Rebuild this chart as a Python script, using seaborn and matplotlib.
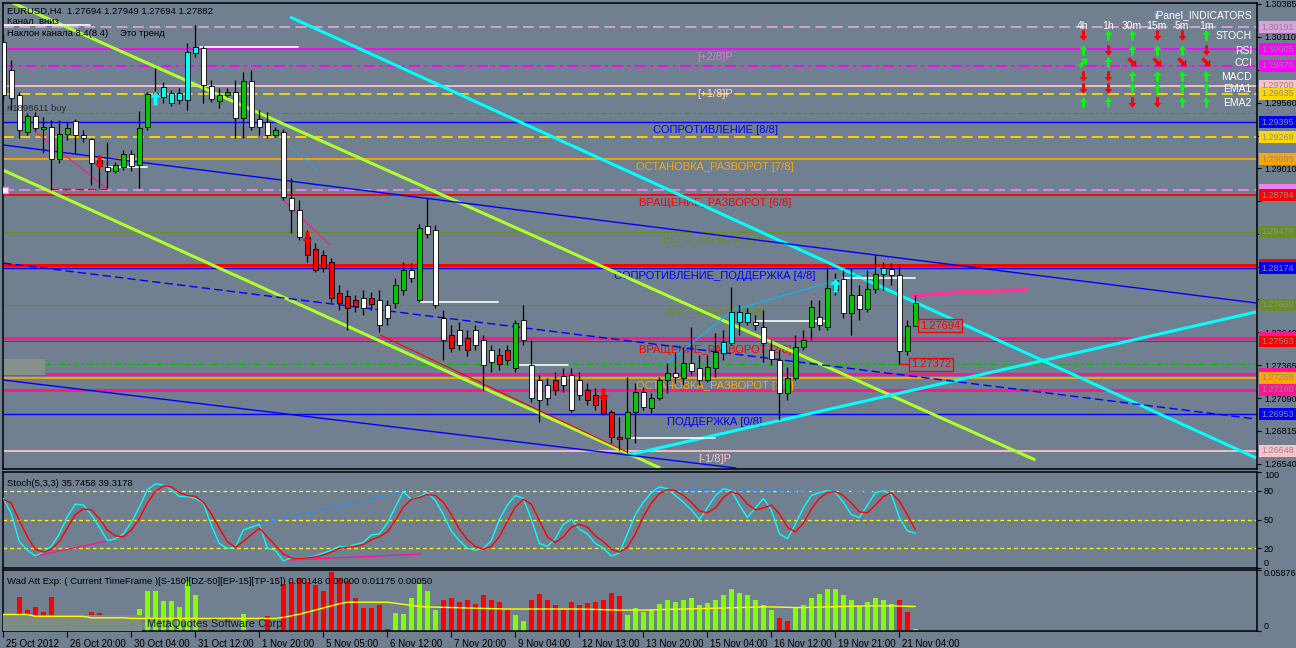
import matplotlib
matplotlib.use("Agg")
import matplotlib.pyplot as plt
import matplotlib.transforms as mtransforms
from matplotlib.patches import Rectangle
from matplotlib.path import Path
import seaborn as sns
import numpy as np

# ---------------- data (EURUSD H4) ----------------
opens = [1.30067, 1.29833, 1.29624, 1.29315, 1.29448, 1.29340, 1.29356, 1.29089, 1.29298, 1.29406,
         1.29289, 1.29256, 1.29080, 1.29022, 1.28988, 1.29022, 1.29131, 1.29039, 1.29356, 1.29607,
         1.29607, 1.29557, 1.29582, 1.29582, 1.29975, 1.30017, 1.29699, 1.29574, 1.29624, 1.29649,
         1.29432, 1.29741, 1.29423, 1.29398, 1.29289, 1.29315, 1.28763, 1.28662, 1.28437, 1.28336,
         1.28286, 1.28228, 1.27968, 1.27943, 1.27910, 1.27927, 1.27927, 1.27910, 1.27868, 1.27885,
         1.27994, 1.28161, 1.27910, 1.28529, 1.28495, 1.27760, 1.27617, 1.27659, 1.27592, 1.27659,
         1.27576, 1.27492, 1.27450, 1.27492, 1.27342, 1.27743, 1.27367, 1.27241, 1.27199, 1.27241,
         1.27275, 1.27283, 1.27241, 1.27158, 1.27116, 1.27116, 1.26974, 1.26765, 1.26756, 1.26974,
         1.27141, 1.27007, 1.27091, 1.27241, 1.27300, 1.27258, 1.27383, 1.27342, 1.27241, 1.27342,
         1.27467, 1.27551, 1.27726, 1.27726, 1.27726, 1.27684, 1.27492, 1.27408, 1.27133, 1.27258,
         1.27517, 1.27684, 1.27768, 1.27684, 1.27994, 1.28086, 1.27801, 1.27952, 1.27835, 1.28002,
         1.28127, 1.28170, 1.28119, 1.27484, 1.27694]
highs = [1.30125, 1.29916, 1.29649, 1.29473, 1.29482, 1.29440, 1.29415, 1.29415, 1.29398, 1.29423,
         1.29331, 1.29264, 1.29122, 1.29231, 1.29064, 1.29164, 1.29164, 1.29490, 1.29649, 1.29850,
         1.29732, 1.29666, 1.29682, 1.30058, 1.30209, 1.30033, 1.29749, 1.29682, 1.29682, 1.29749,
         1.29816, 1.29833, 1.29498, 1.29482, 1.29356, 1.29340, 1.28930, 1.28746, 1.28495, 1.28387,
         1.28328, 1.28261, 1.28035, 1.27994, 1.27952, 1.27994, 1.27977, 1.27994, 1.27910, 1.28094,
         1.28228, 1.28219, 1.28545, 1.28763, 1.28537, 1.27826, 1.27701, 1.27726, 1.27659, 1.27701,
         1.27617, 1.27534, 1.27509, 1.27534, 1.27743, 1.27868, 1.27576, 1.27283, 1.27258, 1.27308,
         1.27342, 1.27342, 1.27308, 1.27216, 1.27174, 1.27158, 1.26990, 1.26932, 1.27266, 1.27216,
         1.27183, 1.27133, 1.27266, 1.27383, 1.27467, 1.27517, 1.27684, 1.27450, 1.27450, 1.27634,
         1.27659, 1.28019, 1.27868, 1.27843, 1.27785, 1.27826, 1.27576, 1.27492, 1.27350, 1.27617,
         1.27659, 1.27910, 1.27910, 1.28186, 1.28136, 1.28161, 1.28178, 1.28035, 1.28161, 1.28286,
         1.28228, 1.28219, 1.28211, 1.27743, 1.27949]
lows = [1.29582, 1.29498, 1.29264, 1.29289, 1.29323, 1.29139, 1.28830, 1.29055, 1.29248, 1.29139,
        1.29231, 1.28871, 1.28846, 1.28846, 1.28972, 1.28997, 1.28988, 1.28846, 1.29331, 1.29582,
        1.29557, 1.29532, 1.29549, 1.29498, 1.29941, 1.29557, 1.29565, 1.29515, 1.29607, 1.29264,
        1.29264, 1.29331, 1.29289, 1.29264, 1.29273, 1.28746, 1.28470, 1.28412, 1.28228, 1.28144,
        1.28144, 1.27893, 1.27826, 1.27659, 1.27810, 1.27785, 1.27826, 1.27643, 1.27701, 1.27843,
        1.27952, 1.28060, 1.27893, 1.28428, 1.27843, 1.27408, 1.27475, 1.27492, 1.27442, 1.27492,
        1.27158, 1.27308, 1.27325, 1.27367, 1.27308, 1.27534, 1.27057, 1.26890, 1.27032, 1.27116,
        1.27141, 1.26974, 1.27074, 1.27032, 1.26990, 1.26949, 1.26715, 1.26656, 1.26631, 1.26715,
        1.26990, 1.26965, 1.27074, 1.27133, 1.27216, 1.27199, 1.27283, 1.27199, 1.27224, 1.27266,
        1.27408, 1.27534, 1.27617, 1.27701, 1.27659, 1.27392, 1.27367, 1.26907, 1.27074, 1.27240,
        1.27492, 1.27576, 1.27659, 1.27659, 1.27952, 1.27760, 1.27617, 1.27743, 1.27810, 1.27968,
        1.27994, 1.28035, 1.27372, 1.27450, 1.27694]
closes = [1.29624, 1.29599, 1.29331, 1.29448, 1.29348, 1.29356, 1.29089, 1.29298, 1.29348, 1.29289,
          1.29264, 1.29055, 1.29030, 1.28988, 1.29039, 1.29131, 1.29030, 1.29348, 1.29632, 1.29641,
          1.29691, 1.29641, 1.29641, 1.29983, 1.30025, 1.29707, 1.29590, 1.29624, 1.29649, 1.29432,
          1.29741, 1.29356, 1.29356, 1.29289, 1.29331, 1.28771, 1.28662, 1.28437, 1.28286, 1.28161,
          1.28178, 1.27927, 1.27885, 1.27843, 1.27860, 1.27843, 1.27877, 1.27701, 1.27760, 1.28035,
          1.28161, 1.28094, 1.28512, 1.28462, 1.27868, 1.27576, 1.27509, 1.27534, 1.27492, 1.27534,
          1.27367, 1.27392, 1.27375, 1.27408, 1.27718, 1.27576, 1.27091, 1.27074, 1.27091, 1.27158,
          1.27199, 1.26990, 1.27116, 1.27074, 1.27032, 1.26965, 1.26765, 1.26748, 1.26974, 1.27141,
          1.27016, 1.27091, 1.27241, 1.27300, 1.27266, 1.27383, 1.27316, 1.27241, 1.27350, 1.27475,
          1.27559, 1.27810, 1.27810, 1.27801, 1.27701, 1.27551, 1.27417, 1.27133, 1.27258, 1.27517,
          1.27576, 1.27852, 1.27701, 1.28010, 1.28077, 1.27801, 1.27952, 1.27835, 1.28002, 1.28127,
          1.28178, 1.28119, 1.27484, 1.27694, 1.27882]
# body colour class per bar: w white, g green, r red, c cyan
candle_kind = ("wwwgwgwggw" "wwrwggwggc" "cccccwwggw" "gwwwgwwwrr" "rrrrrwrwwg"
               "gwgwwwrwrw" "wwrrgwwwwr" "wwwrrrrrgg" "wgggwgwwgg" "ccccwwwwgg"
               "ggwgcwgwgg" "cwwgg")

stoch_main = [72, 56, 27, 18, 12, 16, 22, 35, 53, 66, 65, 55, 42, 28, 30, 35, 47, 63, 81, 87,
              86, 81, 74, 74, 72, 67, 44, 25, 20, 21, 39, 42, 45, 20, 18, 7, 10, 9, 10, 12,
              15, 18, 22, 21, 24, 26, 34, 35, 46, 63, 79, 71, 74, 78, 70, 55, 38, 28, 20, 18,
              20, 28, 50, 65, 75, 72, 50, 25, 22, 30, 45, 50, 40, 35, 25, 20, 12, 15, 35, 55,
              68, 78, 84, 82, 75, 68, 60, 50, 62, 75, 82, 80, 65, 52, 62, 72, 60, 35, 30, 45,
              62, 75, 78, 80, 78, 68, 55, 52, 65, 78, 80, 76, 52, 38, 35.7458]
stoch_signal = [71, 67, 49, 32, 19, 16, 19, 27, 41, 55, 61, 60, 51, 39, 33, 32, 39, 51, 67, 79,
                85, 84, 78, 75, 74, 68, 56, 41, 27, 21, 27, 34, 41, 32, 23, 14, 10, 9, 10, 11,
                13, 16, 20, 21, 22, 24, 29, 32, 37, 49, 63, 71, 73, 76, 75, 68, 55, 40, 29, 22,
                19, 22, 32, 48, 63, 71, 66, 49, 32, 26, 32, 42, 45, 42, 33, 27, 19, 16, 21, 35,
                53, 67, 77, 81, 80, 75, 68, 59, 57, 62, 73, 79, 76, 66, 60, 62, 65, 56, 42, 37,
                46, 61, 72, 78, 79, 75, 67, 58, 57, 65, 74, 78, 69, 55, 39.3178]

wad_vals = [0.0010, 0.0152, 0.0322, 0.0199, 0.0228, 0.0180, 0.0322, 0.0010, 0.0010, 0.0010,
            0.0010, 0.0180, 0.0171, 0.0152, 0.0010, 0.0010, 0.0020, 0.0209, 0.0379, 0.0379,
            0.0284, 0.0284, 0.0228, 0.0465, 0.0341, 0.0010, 0.0010, 0.0010, 0.0010, 0.0010,
            0.0161, 0.0010, 0.0010, 0.0142, 0.0010, 0.0446, 0.0465, 0.0502, 0.0465, 0.0436,
            0.0379, 0.0559, 0.0502, 0.0474, 0.0313, 0.0218, 0.0218, 0.0246, 0.0020, 0.0171,
            0.0161, 0.0313, 0.0450, 0.0380, 0.0200, 0.0300, 0.0320, 0.0280, 0.0300, 0.0260,
            0.0340, 0.0300, 0.0280, 0.0200, 0.0150, 0.0100, 0.0300, 0.0350, 0.0300, 0.0250,
            0.0200, 0.0280, 0.0250, 0.0270, 0.0280, 0.0300, 0.0360, 0.0330, 0.0150, 0.0220,
            0.0180, 0.0200, 0.0260, 0.0300, 0.0280, 0.0300, 0.0320, 0.0250, 0.0270, 0.0300,
            0.0340, 0.0400, 0.0360, 0.0340, 0.0300, 0.0250, 0.0200, 0.0120, 0.0100, 0.0220,
            0.0250, 0.0320, 0.0350, 0.0400, 0.0400, 0.0340, 0.0300, 0.0240, 0.0280, 0.0320,
            0.0300, 0.0260, 0.0300, 0.0180, 0.0020]
wad_dir = ("rrrrrrrrrr" "rrrrrggggg" "gggggrrggr" "grrrrrrrrr" "rrrrrrrrrg"
           "gggggrrrrr" "rrrrggrrrr" "rrrrrrrrgg" "gggggggggg" "gggggggrrg"
           "gggggggggg" "ggrrg")
wad_signal = [0.0158, 0.0158, 0.0158, 0.0158, 0.0140, 0.0140, 0.0140, 0.0140, 0.0140, 0.0140,
              0.0140, 0.0126, 0.0126, 0.0126, 0.0126, 0.0126, 0.0120, 0.0120, 0.0120, 0.0120,
              0.0120, 0.0120, 0.0120, 0.0120, 0.0120, 0.0120, 0.0120, 0.0120, 0.0120, 0.0120,
              0.0120, 0.0120, 0.0120, 0.0120, 0.0120, 0.0130, 0.0145, 0.0160, 0.0180, 0.0200,
              0.0220, 0.0240, 0.0260, 0.0275, 0.0275, 0.0275, 0.0275, 0.0275, 0.0275, 0.0265,
              0.0255, 0.0245, 0.0235, 0.0230, 0.0228, 0.0226, 0.0224, 0.0222, 0.0220, 0.0218,
              0.0216, 0.0214, 0.0212, 0.0210, 0.0210, 0.0210, 0.0210, 0.0210, 0.0210, 0.0210,
              0.0210, 0.0210, 0.0210, 0.0208, 0.0206, 0.0204, 0.0202, 0.0200, 0.0200, 0.0200,
              0.0200, 0.0202, 0.0204, 0.0206, 0.0208, 0.0210, 0.0212, 0.0214, 0.0216, 0.0218,
              0.0220, 0.0222, 0.0224, 0.0226, 0.0228, 0.0230, 0.0230, 0.0228, 0.0226, 0.0224,
              0.0224, 0.0226, 0.0228, 0.0230, 0.0232, 0.0234, 0.0236, 0.0238, 0.0240, 0.0240,
              0.0240, 0.0240, 0.0238, 0.0236, 0.0234]

x_labels = ["25 Oct 2012", "26 Oct 20:00", "30 Oct 04:00", "31 Oct 12:00", "1 Nov 20:00",
            "5 Nov 05:00", "6 Nov 12:00", "7 Nov 20:00", "9 Nov 04:00", "12 Nov 13:00",
            "13 Nov 20:00", "15 Nov 04:00", "16 Nov 12:00", "19 Nov 21:00", "21 Nov 04:00"]
price_ticks = [1.26540, 1.26815, 1.27090, 1.27365, 1.27640, 1.27915, 1.28190, 1.28465,
               1.28735, 1.29010, 1.29285, 1.29560, 1.29835, 1.30110, 1.30385]
# scale labels that sit under a coloured price tag are not visible on the chart
price_tick_text = ['1.26540', '1.26815', '1.27090', '1.27365', '1.27640', '', '', '',
                   '', '1.29010', '', '1.29560', '', '1.30110', '1.30385']

# horizontal levels across the chart
level_prices = [1.30191, 1.30005, 1.29870, 1.29700, 1.29635, 1.29473, 1.29395, 1.29269, 1.29085,
                1.28826, 1.28784, 1.28479, 1.28200, 1.28174, 1.27869, 1.27590, 1.27563, 1.27378,
                1.27290, 1.27258, 1.27160, 1.26953, 1.26648]
level_colors = ['#dda0dd', '#ff00ff', '#ff00ff', '#ffc0cb', '#ffd700', '#00c000', '#0000ff',
                '#ffd700', '#ffa500', '#ee82ee', '#ff0000', '#6b8e23', '#ff0000', '#0000ff',
                '#6b8e23', '#ff1493', '#ff0000', '#00c000', '#ff1493', '#ffa500', '#ff1493',
                '#0000ff', '#ffc0cb']
level_styles = ['dash', 'solid', 'dashdot', 'solid', 'dash', 'dashdot', 'solid', 'dash', 'solid',
                'dash', 'solid', 'solid', 'solid', 'solid', 'solid', 'solid', 'solid', 'dashdot',
                'solid', 'solid', 'solid', 'solid', 'solid']
level_widths = [1.3, 1.3, 1.3, 1.3, 1.3, 0.8, 1.0, 1.3, 1.3, 1.3, 1.3, 0.8, 2.2, 1.0, 0.8,
                2.2, 0.8, 0.8, 2.2, 1.3, 2.2, 1.0, 1.3]

# coloured price tags on the right scale (text hidden where the next tag covers it)
tag_prices = [1.30191, 1.30005, 1.29870, 1.29700, 1.29635, 1.29395, 1.29269, 1.29085, 1.28826,
              1.28784, 1.28479, 1.28200, 1.28174, 1.27869, 1.27590, 1.27563, 1.27290, 1.27258,
              1.27160, 1.26953, 1.26648]
tag_colors = ['#dda0dd', '#ff00ff', '#ff00ff', '#ffc0cb', '#ffd700', '#0000ff', '#ffd700',
              '#ffa500', '#ee82ee', '#ff0000', '#6b8e23', '#ff0000', '#0000ff', '#6b8e23',
              '#ff1493', '#ff0000', '#ff1493', '#ffa500', '#ff1493', '#0000ff', '#ffc0cb']
tag_shown = [True, True, True, True, True, True, True, True, False, True, True, False, True, True,
             False, True, False, True, True, True, True]

murrey_levels = [1.30005, 1.29700, 1.29395, 1.29085, 1.28784, 1.28479, 1.28174, 1.27869,
                 1.27563, 1.27258, 1.26953, 1.26648]
murrey_names = ['[+2/8]P', '[+1/8]P', 'СОПРОТИВЛЕНИЕ [8/8]', 'ОСТАНОВКА_РАЗВОРОТ [7/8]',
                'ВРАЩЕНИЕ_РАЗВОРОТ [6/8]', 'ВЕРХ_КАНАЛА [5/8]', 'СОПРОТИВЛЕНИЕ_ПОДДЕРЖКА [4/8]',
                'ДНО_КАНАЛА [3/8]', 'ВРАЩЕНИЕ_РАЗВОРОТ [2/8]', 'ОСТАНОВКА_РАЗВОРОТ [1/8]',
                'ПОДДЕРЖКА [0/8]', '[-1/8]P']
murrey_colors = ['#dd77dd', '#ffd0d8', '#0000ff', '#ffa500', '#ff0000', '#6b8e23', '#0000ff',
                 '#6b8e23', '#ff0000', '#ffa500', '#0000ff', '#ffc0cb']

# trend lines: (bar index points, price points, colour, width, style)
trend_lines = [
    ([1.2, 129.0], [1.30393, 1.26572], '#adff2f', 2.2, 'solid'),
    ([0.0, 82.1], [1.28995, 1.26505], '#adff2f', 2.2, 'solid'),
    ([35.84, 156.6], [1.30276, 1.26589], '#00ffff', 2.2, 'solid'),
    ([78.09, 156.6], [1.26614, 1.27810], '#00ffff', 2.2, 'solid'),
    ([0.0, 156.6], [1.29206, 1.27885], '#0000ff', 1.0, 'solid'),
    ([0.0, 91.6], [1.27241, 1.26505], '#0000ff', 1.0, 'solid'),
    ([0.0, 156.6], [1.28219, 1.26915], '#0000ff', 1.0, 'dash'),
    ([3.96, 12.92], [1.29318, 1.28844], '#ff1493', 0.8, 'solid'),
    ([5.8, 12.96], [1.28838, 1.28838], '#ff0000', 1.0, 'dash'),
    ([34.96, 40.8], [1.28746, 1.28370], '#ff1493', 0.8, 'solid'),
    ([47.1, 77.97], [1.27617, 1.26639], '#ff0000', 0.8, 'solid'),
    ([34.96, 39.6], [1.29248, 1.28972], '#00bfff', 0.8, 'dot'),
    ([82.96, 91.2, 109.6], [1.27383, 1.27826, 1.28178], '#00bfff', 0.8, 'solid'),
    ([113.5, 119.6, 128.1], [1.27944, 1.27977, 1.27994], '#ff3399', 2.6, 'solid'),
]
# short white order lines: (bar from, bar to, price)
white_lines = [(0.0, 10.8, 1.30209), (24.6, 36.8, 1.30025), (12.96, 17.96, 1.29022),
               (52.1, 61.8, 1.27893), (64.0, 70.6, 1.27367), (78.0, 89.0, 1.26756),
               (94.0, 103.0, 1.27735), (105.0, 114.0, 1.28094)]
# signal arrows: (bar, price, direction)
sig_arrows = [(19, 1.29600, 'up'), (104, 1.28035, 'up'), (12, 1.29064, 'down'),
              (38, 1.28428, 'down'), (75, 1.27116, 'down')]

# stoch divergence lines: (bars, values, colour, style)
stoch_lines = [([3.96, 12.9], [11.8, 27.4], '#ff1493', 'solid'),
               ([35.0, 52.1], [7.6, 13.9], '#ff1493', 'solid'),
               ([31.7, 50.0], [45.2, 79.0], '#1e90ff', 'dash'),
               ([81.0, 110.0], [80.5, 79.0], '#1e90ff', 'dash')]

panel_cols = ['4h', '1h', '30m', '15m', '5m', '1m']
panel_rows = ['STOCH', 'RSI', 'CCI', 'MACD', 'EMA1', 'EMA2']
panel_dirs = [['d', 'u', 'u', 'd', 'd', 'u'],
              ['u', 'd', 'u', 'u', 'u', 'd'],
              ['ur', 'u', 'dr', 'dr', 'dr', 'dr'],
              ['d', 'd', 'u', 'u', 'u', 'u'],
              ['d', 'd', 'u', 'u', 'u', 'u'],
              ['u', 'u', 'd', 'd', 'u', 'u']]

# ---------------- drawing ----------------
sns.set_style("ticks")
plt.rcParams['font.family'] = ['Liberation Sans', 'DejaVu Sans']

BG = '#708090'
W, H = 1296.0, 648.0
DASH = {'solid': '-', 'dash': (0, (6, 3)), 'dashdot': (0, (6, 2.5, 1.5, 2.5)), 'dot': (0, (1.5, 2))}
BODY = {'w': '#ffffff', 'g': '#00c800', 'r': '#ff0000', 'c': '#00ffff'}
ANGLE = {'u': 0, 'd': 180, 'ur': -45, 'dr': -135, 'up': 0, 'down': 180}

# thick arrow outline (points up), rotated to build the markers
ARROW_PTS = np.array([(0, 1), (-0.75, 0.1), (-0.28, 0.1), (-0.28, -1), (0.28, -1),
                      (0.28, 0.1), (0.75, 0.1), (0, 1)])


def arrow_marker(angle):
    a = np.deg2rad(angle)
    rot = np.array([[np.cos(a), -np.sin(a)], [np.sin(a), np.cos(a)]])
    return Path(ARROW_PTS @ rot.T, closed=True)


def px_box(x0, y0, x1, y1):
    return [x0 / W, 1 - y1 / H, (x1 - x0) / W, (y1 - y0) / H]


fig = plt.figure(figsize=(12.96, 6.48), dpi=100, facecolor=BG)
ax = fig.add_axes(px_box(3, 3, 1257, 469))
ax_st = fig.add_axes(px_box(3, 471.5, 1257, 567.5))
ax_wd = fig.add_axes(px_box(3, 569.5, 1257, 631))

for a in (ax, ax_st, ax_wd):
    a.set_facecolor(BG)
    a.set_xlim(-0.04, 156.7)
    for s in a.spines.values():
        s.set_color('black')
        s.set_linewidth(1.1)
    a.tick_params(axis='x', bottom=False, labelbottom=False)
    a.tick_params(axis='y', left=False, labelleft=False, right=True, labelright=True,
                  direction='out', length=3, width=0.8, color='black', labelsize=6.5,
                  labelcolor='black', pad=2)

bars = np.arange(len(closes))
o = np.array(opens); h = np.array(highs); l = np.array(lows); c = np.array(closes)

# ---- main price panel ----
ax.set_ylim(1.26497, 1.30393)
ax.set_yticks(price_ticks)
ax.set_yticklabels(price_tick_text)

for p, col, st, lw in zip(level_prices, level_colors, level_styles, level_widths):
    ax.axhline(p, color=col, ls=DASH[st], lw=lw, zorder=1)

for p, name, col in zip(murrey_levels, murrey_names, murrey_colors):
    ax.text(88.96, p - 0.00092, name, color=col, fontsize=8, ha='center', va='baseline', zorder=2)

ax.add_patch(Rectangle((-0.04, 1.27283), 5.2, 0.00134, facecolor='#85908c', edgecolor='none', zorder=1))

for xs, ys, col, lw, st in trend_lines:
    ax.plot(xs, ys, color=col, lw=lw, ls=DASH[st], zorder=2, solid_capstyle='butt')

for x0, x1, p in white_lines:
    ax.plot([x0, x1], [p, p], color='white', lw=1.2, zorder=2)

ax.vlines(bars, l, h, color='black', lw=0.9, zorder=3)
body_h = np.maximum(np.abs(c - o), 0.00003)
ax.bar(bars, body_h, bottom=np.minimum(o, c), width=0.62,
       color=[BODY[k] for k in candle_kind], edgecolor='black', linewidth=0.6, zorder=4)

for b, p, d in sig_arrows:
    ax.plot([b], [p], marker=arrow_marker(ANGLE[d]), ms=10, mew=0,
            color='#00ffff' if d == 'up' else '#ff0000', zorder=5)

ax.plot([0.2], [1.28830], marker='s', ms=4, mfc='white', mec='#ee82ee', zorder=5)

# bid / low tags
ax.plot([114.3, 114.4], [1.27694, 1.27694], color='red', lw=1, zorder=5)
ax.text(114.55, 1.27694, '1.27694', color='red', fontsize=8, ha='left', va='center', zorder=6,
        bbox=dict(boxstyle='square,pad=0.15', facecolor=BG, edgecolor='red', lw=1))
ax.plot([112.0, 113.3], [1.27372, 1.27372], color='red', lw=1, zorder=5)
ax.text(113.45, 1.27372, '1.27372', color='red', fontsize=8, ha='left', va='center', zorder=6,
        bbox=dict(boxstyle='square,pad=0.15', facecolor=BG, edgecolor='red', lw=1))

trans_r = mtransforms.blended_transform_factory(ax.transAxes, ax.transData)
bw = 40 / 1254.0
bh = 0.00100
for p, col, shown in zip(tag_prices, tag_colors, tag_shown):
    ax.add_patch(Rectangle((1.0012, p - bh / 2), bw, bh, transform=trans_r, facecolor=col,
                           edgecolor='none', clip_on=False, zorder=7))
    if shown:
        ax.text(1.0012 + 3 / 1254.0, p, '%.5f' % p, transform=trans_r, fontsize=6.5,
                color='#8c8c8c', ha='left', va='center', clip_on=False, zorder=8)

# ---- stochastic panel ----
ax_st.set_ylim(0, 100)
for lev in (80, 50, 20):
    ax_st.axhline(lev, color='#ffff00', ls=(0, (3, 2.5)), lw=0.9, zorder=1)
sns.lineplot(x=bars, y=stoch_main, ax=ax_st, color='#00ffff', linewidth=1.0, zorder=3)
sns.lineplot(x=bars, y=stoch_signal, ax=ax_st, color='#ff0000', linewidth=1.0, zorder=3)
for xs, ys, col, st in stoch_lines:
    ax_st.plot(xs, ys, color=col, lw=1.0, ls=DASH[st], zorder=2)
ax_st.set_ylabel('')
ax_st.set_yticks([100, 80, 50, 20, 0])
ax_st.set_yticklabels(['100', '80', '50', '20', '0'])
ax_st.get_yticklabels()[0].set_va('top')
ax_st.get_yticklabels()[-1].set_va('bottom')

# ---- wad panel ----
ax_wd.set_ylim(0, 0.05876)
ax_wd.bar(bars, wad_vals, width=0.6, color=['#ff0000' if d == 'r' else '#7fff00' for d in wad_dir],
          edgecolor='none', zorder=2)
ax_wd.add_patch(Rectangle((-0.04, 0), 17.4, 0.0152, facecolor='#7f8b85', edgecolor='none', zorder=3))
sns.lineplot(x=bars, y=wad_signal, ax=ax_wd, color='#ffff00', linewidth=1.0, zorder=4)
ax_wd.set_ylabel('')
ax_wd.set_yticks([0.05876, 0])
ax_wd.set_yticklabels(['0.05876', '0'])
ax_wd.get_yticklabels()[0].set_va('top')
ax_wd.get_yticklabels()[-1].set_va('bottom')

ax_wd.set_xticks(np.arange(len(x_labels)) * 8)
ax_wd.set_xticklabels(x_labels)
ax_wd.tick_params(axis='x', bottom=True, labelbottom=True, direction='out', length=4, width=0.8,
                  color='black', labelsize=7, labelcolor='black', pad=2)
shift = mtransforms.ScaledTranslation(3 / 100.0, 0, fig.dpi_scale_trans)
for lab in ax_wd.get_xticklabels():
    lab.set_ha('left')
    lab.set_transform(lab.get_transform() + shift)

# ---- header texts ----
def ftext(x, y, s, **kw):
    fig.text(x / W, 1 - y / H, s, **kw)

ftext(7, 14, 'EURUSD,H4  1.27694 1.27949 1.27694 1.27882', fontsize=6.8, color='black', va='baseline')
ftext(7, 24, 'Канал  вниз', fontsize=6.8, color='black', va='baseline')
ftext(7, 36, 'Наклон канала 8.4(8.4)', fontsize=6.8, color='black', va='baseline')
ftext(120, 36, 'Это тренд', fontsize=6.8, color='black', va='baseline')
ftext(7, 111, '#1898611 buy', fontsize=6.8, color='#2a2a2a', va='baseline')
ftext(7, 486, 'Stoch(5,3,3) 35.7458 39.3178', fontsize=6.8, color='black', va='baseline')
ftext(7, 584, 'Wad Att Exp: ( Current TimeFrame )[S-150][DZ-50][EP-15][TP-15]) 0.00148 0.00000 0.01175 0.00050',
      fontsize=6.8, color='black', va='baseline')
ftext(147, 627, 'MetaQuotes Software Corp.', fontsize=8, color='#1a1a1a', va='baseline')

# ---- iPanel indicator grid (overlay in pixel units) ----
ov = fig.add_axes([0, 0, 1, 1])
ov.set_xlim(0, W)
ov.set_ylim(H, 0)
ov.set_axis_off()
ov.patch.set_alpha(0)

col_x = [1082.7, 1107.7, 1131.7, 1156.7, 1181.7, 1206.0]
row_y = [35, 50, 62, 76, 88, 102]
ftext(1252, 18, 'iPanel_INDICATORS', fontsize=7.5, color='white', ha='right', va='baseline')
for cx, name in zip(col_x, panel_cols):
    ftext(cx, 29, name, fontsize=7.5, color='white', ha='center', va='baseline')
for ry, name, dirs in zip(row_y, panel_rows, panel_dirs):
    ftext(1252, ry + 4, name, fontsize=7.5, color='white', ha='right', va='baseline')
    for cx, d in zip(col_x, dirs):
        ov.plot([cx], [ry], marker=arrow_marker(ANGLE[d]), ms=7.5, mew=0,
                color='#00ff00' if d.startswith('u') else '#ff0000')

fig.savefig('out.png', dpi=100, facecolor=BG)
